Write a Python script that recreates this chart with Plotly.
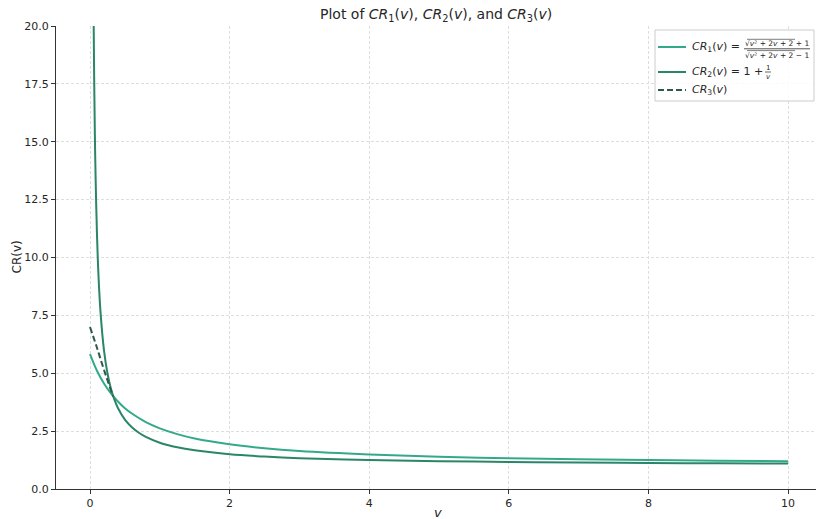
import plotly.graph_objects as go

# ---------------- data ----------------
v_cr1 = [0.0, 0.1, 0.2, 0.3, 0.4, 0.5, 0.6, 0.8, 1.0, 1.25, 1.5, 2.0, 2.5, 3.0,
         4.0, 5.0, 6.0, 7.0, 8.0, 9.0, 10.0]
cr1 = [5.83, 5.11, 4.56, 4.13, 3.78, 3.49, 3.26, 2.89, 2.62, 2.37, 2.18, 1.93,
       1.76, 1.64, 1.49, 1.39, 1.33, 1.28, 1.25, 1.22, 1.20]

v_cr2 = [0.05, 0.06, 0.07, 0.08, 0.1, 0.12, 0.15, 0.2, 0.25, 0.3, 0.35, 0.4,
         0.5, 0.6, 0.7, 0.8, 1.0, 1.25, 1.5, 2.0, 2.5, 3.0, 4.0, 5.0, 6.0,
         7.0, 8.0, 9.0, 10.0]
cr2 = [21.0, 17.67, 15.29, 13.5, 11.0, 9.33, 7.67, 6.0, 5.0, 4.33, 3.86, 3.5,
       3.0, 2.67, 2.43, 2.25, 2.0, 1.8, 1.67, 1.5, 1.4, 1.33, 1.25, 1.2, 1.17,
       1.14, 1.125, 1.11, 1.1]

v_cr3 = [0.0, 0.1, 0.2, 0.33]
cr3 = [7.0, 6.1, 5.15, 4.0]

x_ticks = [0, 2, 4, 6, 8, 10]
y_ticks = [0.0, 2.5, 5.0, 7.5, 10.0, 12.5, 15.0, 17.5, 20.0]

# ---------------- styling ----------------
C1 = "#34a98a"
C2 = "#2b8567"
C3 = "#2b5a49"
FONT = "DejaVu Sans"
TXT = "#262626"

W, H = 817, 519
L, R, T, B = 56, 816, 26, 489  # plot area in pixels


def px(x):
    return (x - L) / (R - L)


def py(y):
    return (B - y) / (B - T)


fig = go.Figure()
fig.add_trace(go.Scatter(x=v_cr1, y=cr1, mode="lines", line=dict(color=C1, width=2, shape="spline"),
                         showlegend=False))
fig.add_trace(go.Scatter(x=v_cr2, y=cr2, mode="lines", line=dict(color=C2, width=2, shape="spline"),
                         showlegend=False))
fig.add_trace(go.Scatter(x=v_cr3, y=cr3, mode="lines",
                         line=dict(color=C3, width=2, dash="6px,3px", shape="spline"),
                         showlegend=False))

axis_common = dict(
    showgrid=True, gridcolor="#dedede", gridwidth=0.8, griddash="3px,2px",
    zeroline=False, showline=True, linecolor="#333333", linewidth=1,
    ticks="outside", ticklen=4, tickcolor="#333333", tickwidth=1,
    tickfont=dict(family=FONT, size=11, color=TXT),
)

fig.update_xaxes(range=[-0.487, 10.40], tickvals=x_ticks, ticktext=[str(t) for t in x_ticks],
                 **axis_common)
fig.update_yaxes(range=[0, 20], tickvals=y_ticks, ticktext=[f"{t:.1f}" for t in y_ticks],
                 **axis_common)

shapes = []
ann = []

# legend frame
shapes.append(dict(type="rect", xref="paper", yref="paper", x0=px(655), x1=px(814),
                   y0=py(101), y1=py(30), line=dict(color="#cccccc", width=1),
                   fillcolor="rgba(255,255,255,0.85)", layer="above"))
# legend line samples
shapes.append(dict(type="line", xref="paper", yref="paper", x0=px(658), x1=px(686),
                   y0=py(47), y1=py(47), line=dict(color=C1, width=2), layer="above"))
shapes.append(dict(type="line", xref="paper", yref="paper", x0=px(658), x1=px(686),
                   y0=py(72), y1=py(72), line=dict(color=C2, width=2), layer="above"))
shapes.append(dict(type="line", xref="paper", yref="paper", x0=px(658), x1=px(686),
                   y0=py(90), y1=py(90), line=dict(color=C3, width=2, dash="6px,3px"),
                   layer="above"))
# fraction bars and radical overlines
for x0, x1, y, w in [(744, 810, 48.8, 0.8), (747, 795, 39.3, 0.6), (747, 795, 50.6, 0.6),
                     (765, 771, 72, 0.7)]:
    shapes.append(dict(type="line", xref="paper", yref="paper", x0=px(x0), x1=px(x1),
                       y0=py(y), y1=py(y), line=dict(color=TXT, width=w), layer="above"))


def text(x, y, s, size, anchor="left"):
    ann.append(dict(x=px(x), y=py(y), xref="paper", yref="paper", text=s, showarrow=False,
                    xanchor=anchor, yanchor="middle",
                    font=dict(family=FONT, size=size, color=TXT)))


text(690, 47, "<i>CR</i><sub>1</sub>(<i>v</i>) =", 11)
text(743, 43.6, "√<i>v</i>² + 2<i>v</i> + 2 + 1", 7.5)
text(743, 55.2, "√<i>v</i>² + 2<i>v</i> + 2 − 1", 7.5)
text(690, 72, "<i>CR</i><sub>2</sub>(<i>v</i>) = 1 +", 11)
text(768, 68, "1", 7, "center")
text(768, 76.5, "<i>v</i>", 7, "center")
text(690, 90, "<i>CR</i><sub>3</sub>(<i>v</i>)", 11)

# axis titles and chart title
text(436, 15, "Plot of <i>CR</i><sub>1</sub>(<i>v</i>), <i>CR</i><sub>2</sub>(<i>v</i>), and "
              "<i>CR</i><sub>3</sub>(<i>v</i>)", 14, "center")
text(438, 512, "<i>v</i>", 13, "center")
ann.append(dict(x=px(16), y=py(257.5), xref="paper", yref="paper", text="CR(v)",
                showarrow=False, textangle=-90, xanchor="center", yanchor="middle",
                font=dict(family=FONT, size=12, color=TXT)))

fig.update_layout(
    width=W, height=H,
    margin=dict(l=L, r=W - R, t=T, b=H - B),
    paper_bgcolor="white", plot_bgcolor="white",
    shapes=shapes, annotations=ann,
    showlegend=False,
    font=dict(family=FONT, color=TXT),
)

fig.write_html("out.html", config={"displayModeBar": False},
               post_script="document.body.style.margin='0px';"
                           "document.body.style.overflow='hidden';")
